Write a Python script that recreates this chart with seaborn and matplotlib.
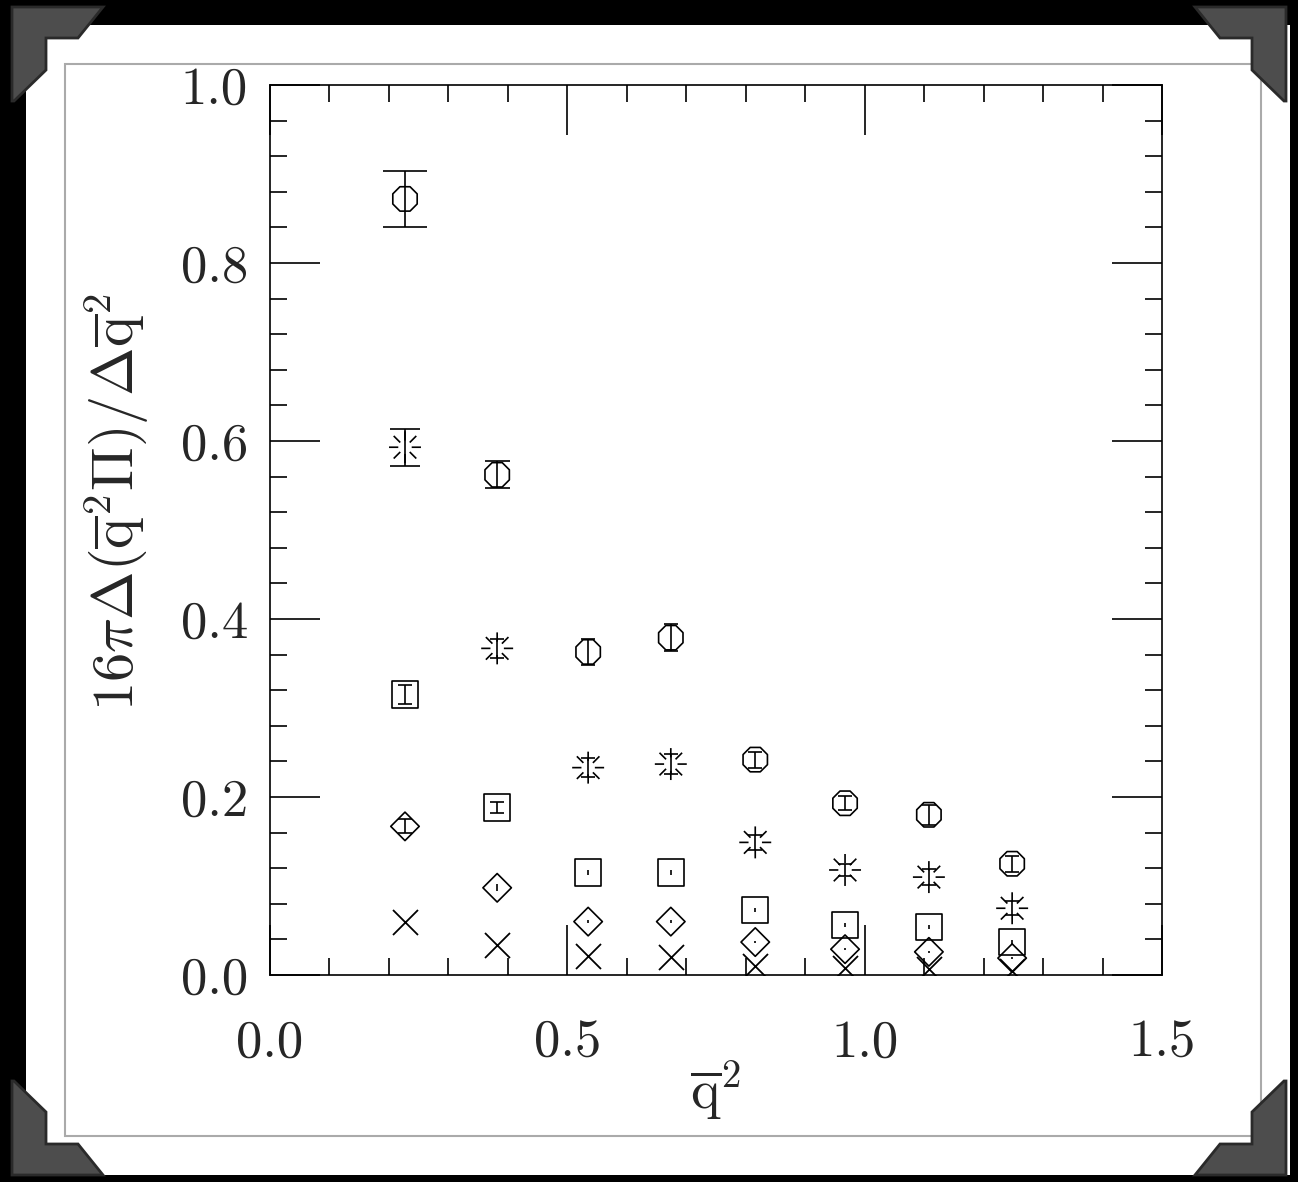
import numpy as np
import matplotlib
matplotlib.use("Agg")
import matplotlib.pyplot as plt
import seaborn as sns
from matplotlib.path import Path
from matplotlib.patches import Rectangle, Polygon
from matplotlib.ticker import MultipleLocator

# data
q2 = [0.227, 0.382, 0.535, 0.674, 0.816, 0.967, 1.108, 1.248]

oct_y = [0.872, 0.562, 0.363, 0.379, 0.242, 0.193, 0.180, 0.125]
oct_err = [0.031, 0.015, 0.015, 0.015, 0.009, 0.008, 0.011, 0.009]

star_y = [0.593, 0.367, 0.233, 0.237, 0.149, 0.118, 0.110, 0.075]
star_err = [0.021, 0.011, 0.011, 0.011, 0.008, 0.007, 0.009, 0.008]

sq_y = [0.315, 0.188, 0.115, 0.115, 0.073, 0.056, 0.054, 0.037]
sq_err = [0.011, 0.006, 0.003, 0.003, 0.002, 0.002, 0.002, 0.002]

dia_y = [0.167, 0.098, 0.060, 0.060, 0.037, 0.029, 0.026, 0.019]
dia_err = [0.008, 0.004, 0.002, 0.002, 0.001, 0.001, 0.001, 0.001]

cross_y = [0.060, 0.034, 0.021, 0.020, 0.010, 0.008, 0.007, 0.005]

W, H = 1298, 1182

sns.set_style("ticks")
plt.rcParams["font.family"] = ["cmr10", "DejaVu Serif"]
plt.rcParams["mathtext.fontset"] = "cm"
plt.rcParams["axes.unicode_minus"] = False
plt.rcParams["axes.formatter.use_mathtext"] = False

# burst marker: eight short dashes that do not reach the centre
verts, codes = [], []
for ang in np.arange(0, 360, 45):
    a = np.deg2rad(ang)
    verts += [(0.42 * np.cos(a), 0.42 * np.sin(a)), (np.cos(a), np.sin(a))]
    codes += [Path.MOVETO, Path.LINETO]
burst = Path(verts, codes)

fig = plt.figure(figsize=(W / 100, H / 100), dpi=100, facecolor="black")

# photo mat and thin inner frame
fig.patches.append(Rectangle((26 / W, 1 - 1175 / H), (1290 - 26) / W, (1175 - 25) / H,
                             transform=fig.transFigure, facecolor="white", edgecolor="none", zorder=-3))
fig.patches.append(Rectangle((65 / W, 1 - 1136 / H), (1261 - 65) / W, (1136 - 64) / H,
                             transform=fig.transFigure, facecolor="none", edgecolor="#aaaaaa",
                             linewidth=1.5, zorder=-2))

corner = [(12, 7), (103, 7), (78, 38), (46, 38), (46, 70), (14, 101), (12, 101)]
for fx, fy in [(False, False), (True, False), (False, True), (True, True)]:
    pts = []
    for x, y in corner:
        px = W - x if fx else x
        py = H - y if fy else y
        pts.append((px / W, 1 - py / H))
    fig.patches.append(Polygon(pts, closed=True, transform=fig.transFigure,
                               facecolor="#4d4d4d", edgecolor="#2a2a2a", linewidth=2, zorder=-1))

ax = fig.add_axes([270 / W, 1 - 975 / H, (1162 - 270) / W, (975 - 85) / H])
ax.set_zorder(1)
ax.set_facecolor("white")

series = [
    (oct_y, oct_err, "8", 19),
    (star_y, star_err, burst, 23),
    (sq_y, sq_err, "s", 19),
    (dia_y, dia_err, "D", 14.5),
    (cross_y, None, "x", 18),
]

for yv, ev, m, ms in series:
    if ev is not None:
        for i in range(len(q2)):
            if i == 0 and yv is oct_y:
                cap = 16
            elif i == 0 and yv is star_y:
                cap = 11
            elif i == 1 and yv is oct_y:
                cap = 9
            elif ev[i] >= 0.005:
                cap = 5
            else:
                cap = 0
            ax.errorbar(q2[i], yv[i], yerr=ev[i], fmt="none", ecolor="black",
                        elinewidth=1.2, capsize=cap, capthick=1.2, zorder=3)
    if m == "x":
        sns.scatterplot(x=q2, y=yv, marker=m, s=ms ** 2, color="black",
                        linewidth=1.3, ax=ax, zorder=4)
    else:
        sns.scatterplot(x=q2, y=yv, marker=m, s=ms ** 2, facecolor="none",
                        edgecolor="black", linewidth=1.2, ax=ax, zorder=4)

ax.set_xlim(0, 1.5)
ax.set_ylim(0, 1.0)
ax.xaxis.set_major_locator(MultipleLocator(0.5))
ax.xaxis.set_minor_locator(MultipleLocator(0.1))
ax.yaxis.set_major_locator(MultipleLocator(0.2))
ax.yaxis.set_minor_locator(MultipleLocator(0.04))
ax.xaxis.set_major_formatter(plt.FormatStrFormatter("%.1f"))
ax.yaxis.set_major_formatter(plt.FormatStrFormatter("%.1f"))

ax.tick_params(which="both", direction="in", top=True, right=True, width=1.2, color="black")
ax.tick_params(which="major", length=36)
ax.tick_params(which="minor", length=12)
ax.tick_params(axis="x", which="major", pad=32, labelsize=38)
ax.tick_params(axis="y", which="major", pad=16, labelsize=38)
for sp in ax.spines.values():
    sp.set_linewidth(1.2)
    sp.set_color("black")

ax.set_xlabel(r"$\overline{\mathrm{q}}^{2}$", fontsize=40, va="top")
ax.xaxis.set_label_coords(0.5, -0.095)
ax.set_ylabel(r"$16\pi\Delta(\overline{\mathrm{q}}^{2}\Pi)/\Delta\overline{\mathrm{q}}^{2}$",
              fontsize=42, va="center")
ax.yaxis.set_label_coords(-0.172, 0.531)

fig.savefig("out.png", dpi=100, facecolor=fig.get_facecolor())
